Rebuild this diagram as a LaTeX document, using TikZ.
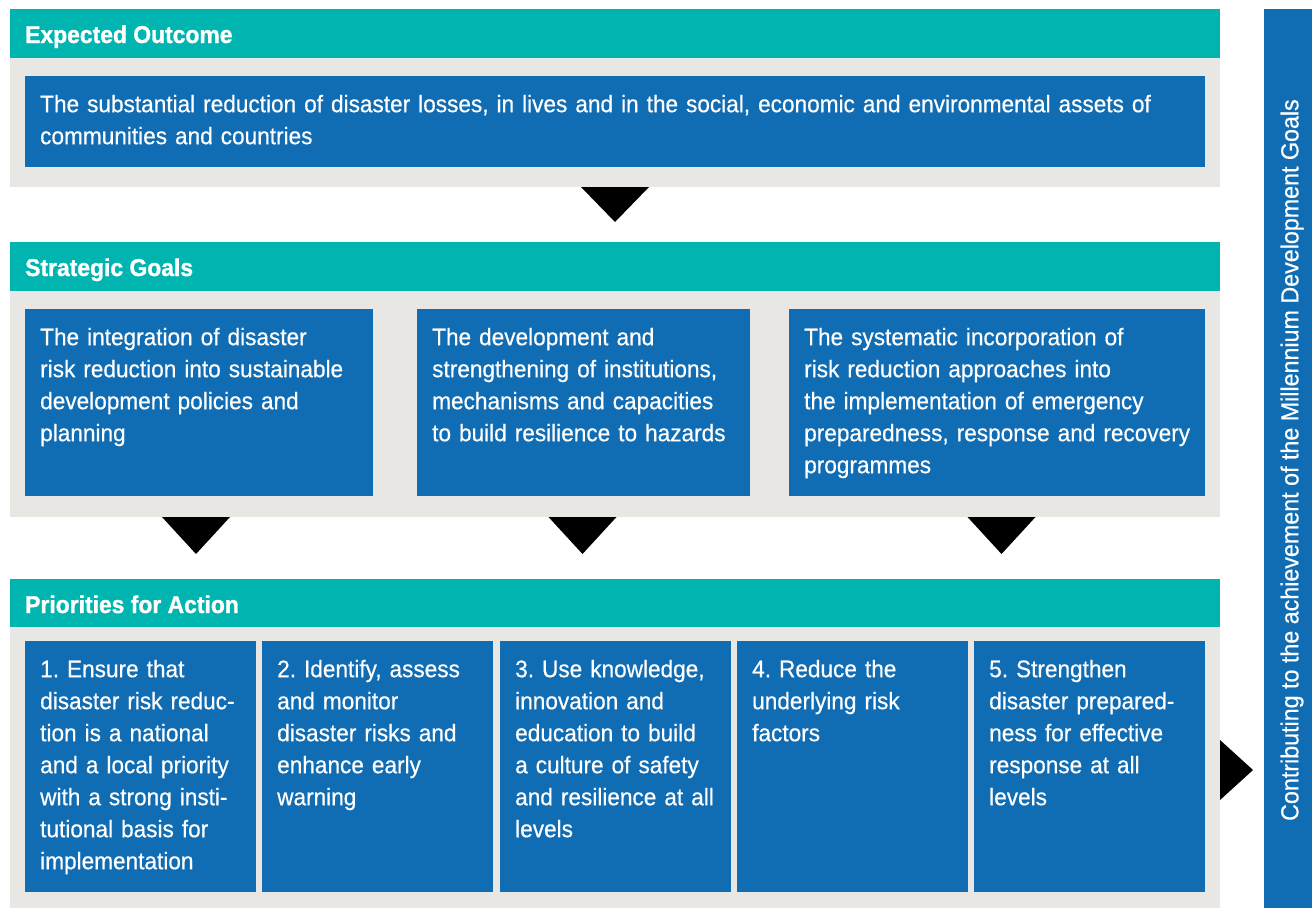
\documentclass[tikz,border=0pt]{standalone}
\usepackage{fontspec}
\usetikzlibrary{calc}
\setmainfont{Liberation Sans}[FakeStretch=0.942, UprightFeatures={FakeBold=0.5}, BoldFeatures={FakeBold=1.2}]
\frenchspacing
\definecolor{tealband}{HTML}{00B4AF}
\definecolor{bluebox}{HTML}{106CB3}
\definecolor{greypanel}{HTML}{E9E7E4}
\tikzset{
  band/.style={fill=tealband, draw=none, anchor=north west, inner sep=0pt},
  panel/.style={fill=greypanel, draw=none, anchor=north west, inner sep=0pt},
  box/.style={fill=bluebox, draw=none, anchor=north west, inner sep=0pt},
  headtxt/.style={text=white, font=\fontsize{24.3}{28}\selectfont\bfseries, anchor=base west, inner sep=0pt},
  txt/.style={text=white, font=\fontsize{24}{32}\selectfont, anchor=north west, inner sep=0pt, align=left},
  tri/.style={fill=black, draw=none}
}
\begin{document}
\begin{tikzpicture}[x=1pt,y=-1pt]
\useasboundingbox (0,0) rectangle (1312,908);
% Expected outcome
\node[band, minimum width=1210pt, minimum height=49pt] (h1) at (10,9) {};
\node[headtxt] (h1t) at (25,43) {Expected Outcome};
\node[panel, minimum width=1210pt, minimum height=129pt] (p1) at (10,58) {};
\node[box, minimum width=1180pt, minimum height=91pt] (o1) at (25,76) {};
\node[txt, text width=1160pt] (o1t) at (40,89.6) {\strut The substantial reduction of disaster losses, in lives and in the social, economic and environmental assets of\\communities and countries};
% arrow 1
\coordinate (a1) at (615,187);
\fill[tri] ($(a1)+(-34,0)$) -- ($(a1)+(34,0)$) -- ($(a1)+(0,35)$) -- cycle;
% Strategic goals
\node[band, minimum width=1210pt, minimum height=49pt] (h2) at (10,242) {};
\node[headtxt] (h2t) at (25,276) {Strategic Goals};
\node[panel, minimum width=1210pt, minimum height=226pt] (p2) at (10,291) {};
\node[box, minimum width=348pt, minimum height=187pt] (g1) at (25,309) {};
\node[box, minimum width=333pt, minimum height=187pt] (g2) at (417,309) {};
\node[box, minimum width=416pt, minimum height=187pt] (g3) at (789,309) {};
\node[txt, text width=330pt] (g1t) at (40,322.6) {\strut The integration of disaster\\risk reduction into sustainable\\development policies and\\planning};
\node[txt, text width=320pt] (g2t) at (432,322.6) {\strut The development and\\strengthening of institutions,\\mechanisms and capacities\\to build resilience to hazards};
\node[txt, text width=400pt] (g3t) at (804,322.6) {\strut The systematic incorporation of\\risk reduction approaches into\\the implementation of emergency\\preparedness, response and recovery\\programmes};
% arrows 2
\coordinate (a2) at (196,517);
\coordinate (a3) at (582.5,517);
\coordinate (a4) at (1001.5,517);
\foreach \c in {a2,a3,a4}{
  \fill[tri] ($(\c)+(-34,0)$) -- ($(\c)+(34,0)$) -- ($(\c)+(0,37)$) -- cycle;
}
% Priorities
\node[band, minimum width=1210pt, minimum height=48pt] (h3) at (10,579) {};
\node[headtxt] (h3t) at (25,613) {Priorities for Action};
\node[panel, minimum width=1210pt, minimum height=281pt] (p3) at (10,627) {};
\node[box, minimum width=231pt, minimum height=251pt] (q1) at (25,641) {};
\node[box, minimum width=231pt, minimum height=251pt] (q2) at (262,641) {};
\node[box, minimum width=231pt, minimum height=251pt] (q3) at (500,641) {};
\node[box, minimum width=231pt, minimum height=251pt] (q4) at (737,641) {};
\node[box, minimum width=231pt, minimum height=251pt] (q5) at (974,641) {};
\node[txt, text width=220pt] (q1t) at (40,654.6) {\strut 1. Ensure that\\disaster risk reduc-\\tion is a national\\and a local priority\\with a strong insti-\\tutional basis for\\implementation};
\node[txt, text width=220pt] (q2t) at (277,654.6) {\strut 2. Identify, assess\\and monitor\\disaster risks and\\enhance early\\warning};
\node[txt, text width=220pt] (q3t) at (515,654.6) {\strut 3. Use knowledge,\\innovation and\\education to build\\a culture of safety\\and resilience at all\\levels};
\node[txt, text width=220pt] (q4t) at (752,654.6) {\strut 4. Reduce the\\underlying risk\\factors};
\node[txt, text width=220pt] (q5t) at (989,654.6) {\strut 5. Strengthen\\disaster prepared-\\ness for effective\\response at all\\levels};
% right arrow and bar
\coordinate (a5) at (1220,740);
\fill[tri] (a5) -- ($(a5)+(33,30)$) -- ($(a5)+(0,60)$) -- cycle;
\node[box, minimum width=48pt, minimum height=899pt] (bar) at (1264,9) {};
\node[text=white, font=\fontsize{24.7}{28}\selectfont, rotate=90, inner sep=0pt] (bart) at (1292,460) {Contributing to the achievement of the Millennium Development Goals};
\end{tikzpicture}
\end{document}
